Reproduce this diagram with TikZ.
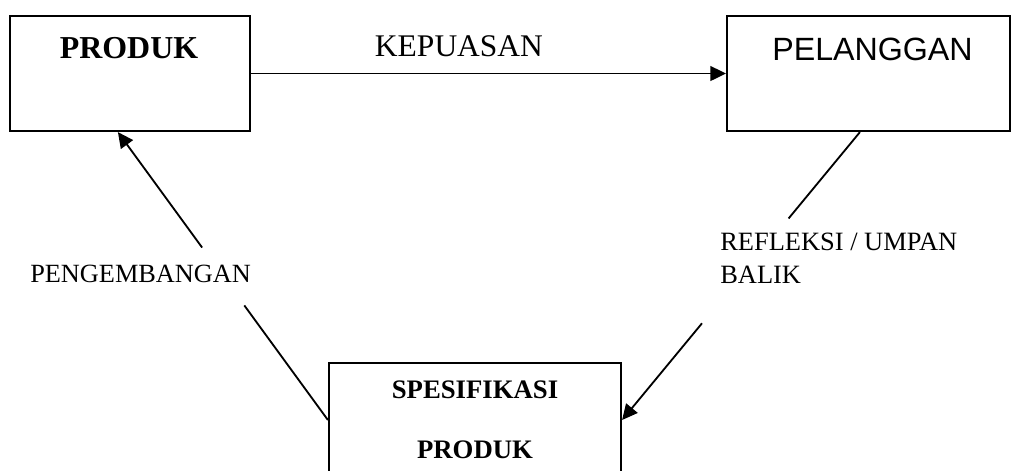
\documentclass[tikz,border=0pt]{standalone}
\usepackage{fontspec}
\setmainfont{Liberation Serif}
\newfontfamily\arialfont{Liberation Sans}
\usetikzlibrary{
  arrows.meta,
  calc,
  positioning
}
\tikzset{
  >={Triangle[length=11pt,width=10.5pt]},
  line cap=round,
  line join=round,
  box/.style={draw, line width=1.5pt, inner sep=0pt, minimum height=2.875cm},
  arrow/.style={->, line width=1.3pt},
  link/.style={line width=1.3pt},
  lbl/.style={inner sep=0pt, anchor=base}
}

\begin{document}
\begin{tikzpicture}[x=0.025cm, y=-0.025cm]
  \useasboundingbox (0,0) rectangle (1011,470);
  \clip (0,0) rectangle (1011,470);

  % boxes
  \node[box, minimum width=6cm] (prod) at (130,73.5) {};
  \node[box, minimum width=7.075cm] (pel) at (868.5,73.5) {};
  \node[box, minimum width=7.3cm, minimum height=2.85cm, align=center,
        font=\fontsize{19}{42.7}\selectfont\bfseries] (spec) at (475,420)
        {SPESIFIKASI\\PRODUK};

  % texts
  \node[lbl, font=\fontsize{22.7}{27}\selectfont\bfseries] (prodtxt) at (129,58) {PRODUK};
  \node[lbl, font=\fontsize{22.9}{27}\selectfont\arialfont] (peltxt) at (872.5,60) {PELANGGAN};
  \node[lbl, font=\fontsize{22.4}{27}\selectfont] (puas) at (459,56) {KEPUASAN};
  \node[lbl, anchor=base west, font=\fontsize{18.7}{22.8}\selectfont] (kembang) at (30,282) {PENGEMBANGAN};
  \node[lbl, anchor=base west, align=left, font=\fontsize{18.8}{22.8}\selectfont] (balik) at (720,283)
        {REFLEKSI / UMPAN\\BALIK};

  % connectors
  \coordinate (pin) at ($(prod.south west)!0.45!(prod.south east)$);
  \coordinate (pout) at ($(pel.south west)!0.47!(pel.south east)$);

  \draw[arrow] (prod.east) -- (pel.west);

  \path (spec.west) -- (pin) coordinate[pos=0.398] (l1) coordinate[pos=0.599] (l2);
  \draw[link] (spec.west) -- (l1);
  \draw[arrow] (l2) -- (pin);

  \path (pout) -- (spec.east) coordinate[pos=0.30] (r1) coordinate[pos=0.664] (r2);
  \draw[link] (pout) -- (r1);
  \draw[arrow] (r2) -- (spec.east);
\end{tikzpicture}
\end{document}
